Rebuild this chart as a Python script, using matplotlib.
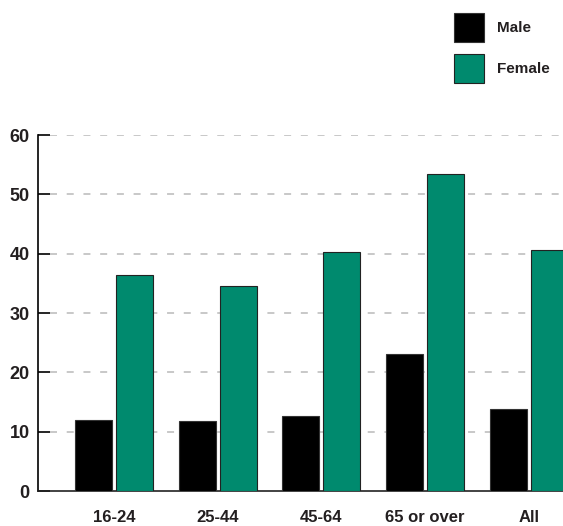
import numpy as np
import matplotlib.pyplot as plt

plt.rc('font', family='Liberation Sans')

# data
groups = ['16-24', '25-44', '45-64', '65 or over', 'All']
male = [11.9, 11.8, 12.6, 23.1, 13.8]
female = [36.4, 34.6, 40.2, 53.4, 40.6]

male_col = '#000000'
female_col = '#008A6E'

fig = plt.figure(figsize=(5.63, 5.26), dpi=100)
ax = fig.add_axes([38/563, 1 - 491/526, 1 - 38/563, (491 - 135)/526])

x = np.arange(len(groups))
w = 0.357
off = 0.198
ax.bar(x - off, male, w, color=male_col, edgecolor='#333333', linewidth=0.8,
       label='Male', zorder=3)
ax.bar(x + off, female, w, color=female_col, edgecolor='#222222', linewidth=0.8,
       label='Female', zorder=3)

ax.set_xlim(-0.733, 4.33)
ax.set_ylim(0, 60)
ax.set_yticks(range(0, 61, 10))
ax.set_xticks(x)
ax.set_xticklabels(groups)

# dashed grid starting where the inward ticks end
for yv in range(10, 61, 10):
    ax.axhline(yv, xmin=12/525, color='#C8C8C8', linewidth=1.4,
               linestyle=(0, (3.6, 5.0)), zorder=1)

for s in ['top', 'right']:
    ax.spines[s].set_visible(False)
ax.spines['left'].set_linewidth(1.2)
ax.spines['bottom'].set_linewidth(1.2)
ax.spines['bottom'].set_color('#222222')

ax.tick_params(axis='y', direction='in', length=8.6, width=1.2, pad=6,
               labelsize=13)
ax.tick_params(axis='x', length=0, pad=14, labelsize=12)
for lab in ax.get_yticklabels() + ax.get_xticklabels():
    lab.set_fontweight('bold')
    lab.set_color('#231F20')

leg = ax.legend(loc='upper left', bbox_to_anchor=(454/563, 1 - 13/526),
                bbox_transform=fig.transFigure, frameon=False,
                borderpad=0, borderaxespad=0, handlelength=1.96,
                handleheight=2.55, labelspacing=0.79, handletextpad=0.85,
                prop={'size': 11, 'weight': 'bold'})
for t in leg.get_texts():
    t.set_color('#231F20')

plt.savefig('out.png', dpi=100)
